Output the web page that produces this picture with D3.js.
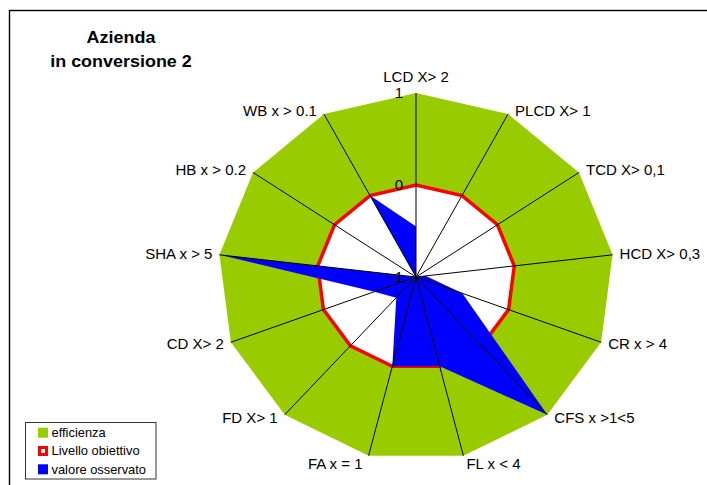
<!DOCTYPE html>
<html>
<head>
<meta charset="utf-8">
<script src="https://cdn.jsdelivr.net/npm/d3@7"></script>
<style>
  html, body { margin: 0; padding: 0; background: #fff; }
  svg { display: block; }
  text { font-family: "Liberation Sans", Arial, sans-serif; fill: #000; }
</style>
</head>
<body>
<script>
// ---- data ----
const categories = ["LCD X> 2", "PLCD X> 1", "TCD X> 0,1", "HCD X> 0,3", "CR x > 4", "CFS x >1<5",
                    "FL x < 4", "FA x = 1", "FD X> 1", "CD X> 2", "SHA x > 5", "HB x > 0.2", "WB x > 0.1"];
const efficienza       = [1, 1, 1, 1, 1, 1, 1, 1, 1, 1, 1, 1, 1];
const livelloObiettivo = [0, 0, 0, 0, 0, 0, 0, 0, 0, 0, 0, 0, 0];
const valoreOsservato  = [-0.45, -1, -1, -0.9, -0.5, 1, 0, 0, -0.7, -0.55, 1, -1, 0];
const tickValues = [-1, 0, 1];
const seriesNames = ["efficienza", "Livello obiettivo", "valore osservato"];
const titleLines = ["Azienda", "in conversione 2"];

// ---- layout ----
const W = 707, H = 485;
const cx = 416, cy = 277;
const sx = 1.075; // horizontal stretch of the original picture

const svg = d3.select("body").append("svg").attr("width", W).attr("height", H);

// frame
svg.append("rect").attr("x", 9.5).attr("y", 10.5).attr("width", 740).attr("height", 520)
  .attr("fill", "none").attr("stroke", "#000").attr("stroke-width", 1.4);

const rX = d3.scaleLinear().domain([-1, 1]).range([0, 198]);
const rY = d3.scaleLinear().domain([-1, 1]).range([0, 184]);
const ang = d3.scaleLinear().domain([0, categories.length]).range([0, 2 * Math.PI]);

const pt = (v, i) => [cx + rX(v) * Math.sin(ang(i)), cy - rY(v) * Math.cos(ang(i))];
const line = d3.line().curve(d3.curveLinearClosed);

const g = svg.append("g");
g.append("path").attr("d", line(efficienza.map(pt))).attr("fill", "#99CC00");
g.append("path").attr("d", line(livelloObiettivo.map(pt))).attr("fill", "#fff")
  .attr("stroke", "#FF0000").attr("stroke-width", 3.5).attr("stroke-linejoin", "miter");
g.append("path").attr("d", line(valoreOsservato.map(pt))).attr("fill", "#0000FF");

// spokes
categories.forEach((c, i) => {
  const p = pt(1, i);
  g.append("line").attr("x1", cx).attr("y1", cy).attr("x2", p[0]).attr("y2", p[1])
    .attr("stroke", "#000").attr("stroke-width", 1);
});

function stext(x, y, str, anchor, size, weight) {
  return svg.append("text")
    .attr("transform", `translate(${x},${y}) scale(${sx},1)`)
    .attr("text-anchor", anchor)
    .attr("font-size", size)
    .attr("font-weight", weight || "normal")
    .text(str);
}

// tick labels on the first axis
tickValues.forEach(t => {
  const y = cy - rY(t);
  stext(cx - 13, y + 5, String(t), "end", 14);
});

// category labels
categories.forEach((c, i) => {
  const a = ang(i);
  const p = pt(1, i);
  const s = Math.sin(a), co = Math.cos(a);
  if (Math.abs(s) < 0.01) {
    stext(p[0], p[1] - 11, c, "middle", 14);
  } else {
    let dy = -4 * co + (Math.abs(s) < 0.3 ? 4 : 0);
    const anchor = s > 0 ? "start" : "end";
    const dx = s > 0 ? (Math.abs(s) < 0.3 ? 3 : 7) : (Math.abs(s) < 0.3 ? -6 : -7);
    stext(p[0] + dx, p[1] + dy + 5, c, anchor, 14);
  }
});

// title
stext(121, 43.3, titleLines[0], "middle", 16.7, "bold");
stext(121, 66.7, titleLines[1], "middle", 16.7, "bold");

// legend
const lg = svg.append("g");
lg.append("rect").attr("x", 25.5).attr("y", 422.5).attr("width", 130.5).attr("height", 56.5)
  .attr("fill", "#fff").attr("stroke", "#333").attr("stroke-width", 1);
const legColors = ["#99CC00", "#FF0000", "#0000FF"];
seriesNames.forEach((n, k) => {
  const yc = 432.7 + k * 18.3;
  lg.append("rect").attr("x", 38).attr("y", yc - 5).attr("width", 10).attr("height", 10)
    .attr("fill", legColors[k]);
  if (k === 1) {
    lg.append("rect").attr("x", 41).attr("y", yc - 2).attr("width", 4).attr("height", 4).attr("fill", "#fff");
  }
  stext(51.5, yc + 4.3, n, "start", 12);
});
</script>
</body>
</html>
